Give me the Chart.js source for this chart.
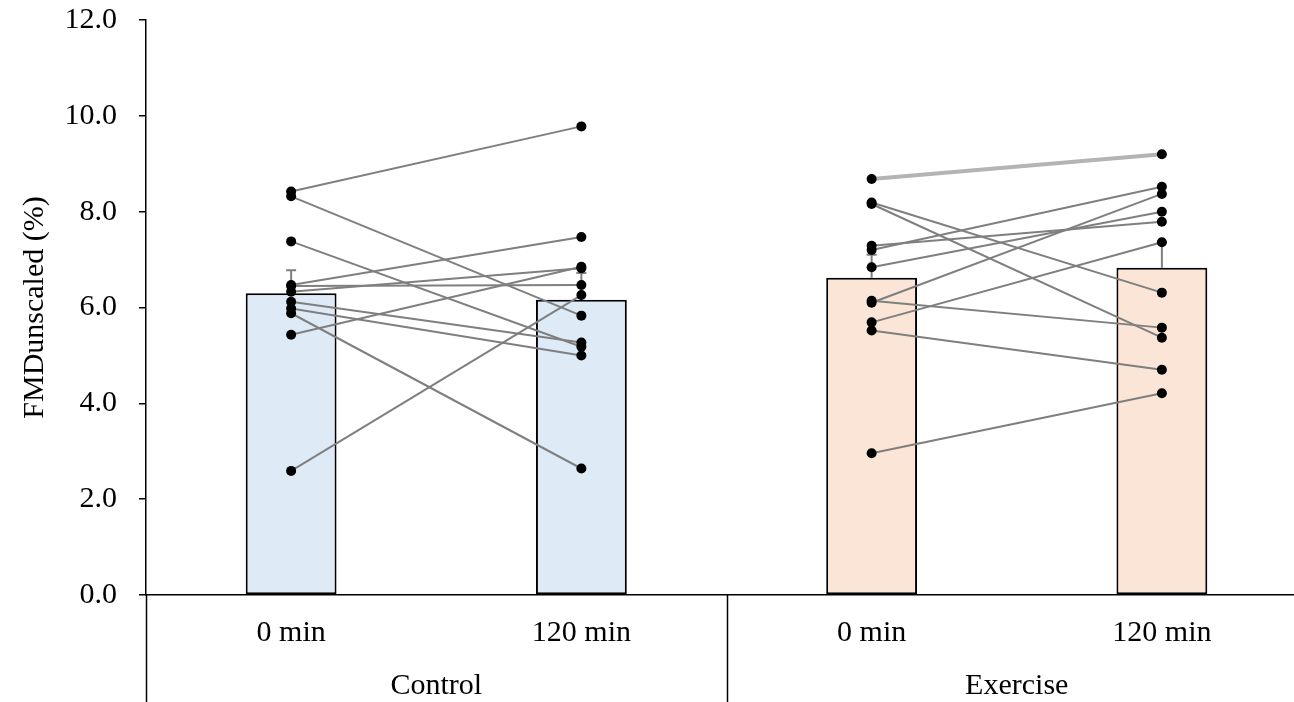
<!DOCTYPE html>
<html>
<head>
<meta charset="utf-8">
<script src="https://cdn.jsdelivr.net/npm/chart.js@4.4.1/dist/chart.umd.min.js"></script>
<style>
  html, body { margin: 0; padding: 0; background: #fff; overflow: hidden; }
  #fmdCanvas { display: block; }
</style>
</head>
<body>
<canvas id="fmdCanvas" width="1312" height="702"></canvas>
<script>
const timepoints = ["0 min", "120 min", "0 min", "120 min"];
const groups = ["Control", "Exercise"];
const meanValues = [6.30, 6.16, 6.62, 6.83];
const errorValues = [0.48, 0.56, 0.48, 0.53];
const barColors = ["#deebf7", "#deebf7", "#fbe5d6", "#fbe5d6"];

// one entry per participant, 0 min and 120 min
const control0 = [8.42, 8.32, 7.38, 6.47, 6.45, 6.33, 6.12, 5.98, 5.88, 5.43, 2.59];
const control120 = [9.78, 5.83, 5.18, 7.47, 6.47, 6.82, 5.27, 5.00, 2.64, 6.85, 6.26];
const exercise0 = [8.68, 8.19, 8.16, 7.29, 7.20, 6.84, 6.14, 6.10, 5.69, 5.52, 2.96];
const exercise120 = [9.20, 6.31, 5.37, 7.79, 8.52, 8.00, 5.58, 8.37, 7.36, 4.70, 4.21];
const highlightedExercise = 0;

const yTicks = [0, 2, 4, 6, 8, 10, 12];

const fontFamily = "'Liberation Serif', 'Times New Roman', serif";
const fontSize = 30;

// data is laid on the category index: [0 min, 120 min] for one group, nulls for the other
function subjectData(a, b, group) {
    return group === 0 ? [a, b, null, null] : [null, null, a, b];
}

const lineSets = [];
const pointSets = [];
function addSubject(a, b, group, highlight) {
    lineSets.push({
        type: "line",
        data: subjectData(a, b, group),
        borderColor: highlight ? "#b4b4b4" : "#7f7f7f",
        borderWidth: highlight ? 4 : 2,
        pointRadius: 0,
        spanGaps: false,
        order: 2
    });
    pointSets.push({
        type: "line",
        data: subjectData(a, b, group),
        showLine: false,
        pointRadius: 5,
        pointBackgroundColor: "#000",
        pointBorderWidth: 0,
        order: 1
    });
}
control0.forEach((v, i) => addSubject(v, control120[i], 0, false));
exercise0.forEach((v, i) => addSubject(v, exercise120[i], 1, i === highlightedExercise));

const errorBars = {
    id: "errorBars",
    beforeDatasetsDraw(chart) {
        const ctx = chart.ctx, x = chart.scales.x, y = chart.scales.y;
        ctx.save();
        ctx.strokeStyle = "#7f7f7f";
        ctx.lineWidth = 2;
        meanValues.forEach((m, i) => {
            const px = x.getPixelForValue(i);
            const top = y.getPixelForValue(m + errorValues[i]);
            ctx.beginPath();
            ctx.moveTo(px, y.getPixelForValue(m));
            ctx.lineTo(px, top);
            ctx.moveTo(px - 5, top);
            ctx.lineTo(px + 5, top);
            ctx.stroke();
        });
        ctx.restore();
    }
};

const groupAxis = {
    id: "groupAxis",
    afterDraw(chart) {
        const ctx = chart.ctx, x = chart.scales.x;
        const top = chart.chartArea.bottom;
        ctx.save();
        ctx.strokeStyle = "#000";
        ctx.lineWidth = 1.5;
        [-0.5, 1.5, 3.5].forEach(v => {
            const px = Math.round(x.getPixelForValue(v)) + 0.5;
            ctx.beginPath();
            ctx.moveTo(px, top);
            ctx.lineTo(px, chart.height);
            ctx.stroke();
        });
        ctx.fillStyle = "#000";
        ctx.font = fontSize + "px " + fontFamily;
        ctx.textAlign = "center";
        ctx.textBaseline = "middle";
        groups.forEach((g, i) => {
            ctx.fillText(g, x.getPixelForValue(i * 2 + 0.5), 686);
        });
        ctx.restore();
    }
};

Chart.defaults.font.family = fontFamily;
Chart.defaults.font.size = fontSize;
Chart.defaults.color = "#000";

new Chart(document.getElementById("fmdCanvas"), {
    type: "bar",
    data: {
        labels: timepoints,
        datasets: [
            {
                data: meanValues,
                backgroundColor: barColors,
                borderColor: "#000",
                borderWidth: 2,
                borderSkipped: false,
                barPercentage: 0.313,
                categoryPercentage: 1,
                order: 10
            },
            ...lineSets,
            ...pointSets
        ]
    },
    options: {
        responsive: false,
        animation: false,
        devicePixelRatio: 1,
        layout: { padding: { top: 0, right: 2, left: 0, bottom: 0 } },
        plugins: { legend: { display: false }, tooltip: { enabled: false } },
        scales: {
            x: {
                grid: { display: false, drawTicks: false, tickLength: 0 },
                border: { display: true, color: "#000", width: 1.5 },
                ticks: { padding: 20, maxRotation: 0, autoSkip: false },
                afterFit(scale) { scale.height = 107; }
            },
            y: {
                min: 0,
                max: 12,
                afterBuildTicks(scale) { scale.ticks = yTicks.map(v => ({ value: v })); },
                ticks: { padding: 22, callback: v => Number(v).toFixed(1) },
                grid: { drawOnChartArea: false, drawTicks: true, tickLength: 7, color: "#000", lineWidth: 1.5 },
                border: { display: true, color: "#000", width: 1.5 },
                title: { display: true, text: "FMDunscaled (%)", padding: { top: 17, bottom: 0 } },
                afterFit(scale) {
                    scale.width = 146;
                    scale.paddingTop = 20;
                    scale.paddingBottom = 0;
                }
            }
        }
    },
    plugins: [errorBars, groupAxis]
});
</script>
</body>
</html>
